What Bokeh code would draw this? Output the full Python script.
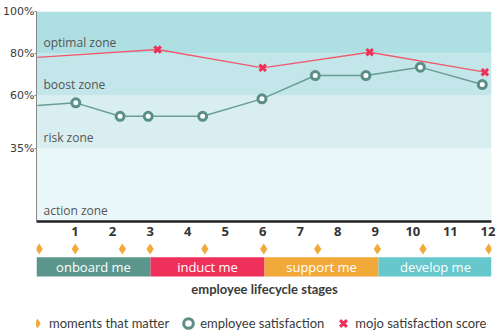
from bokeh.plotting import figure
from bokeh.models import (Range1d, FixedTicker, BoxAnnotation, ColumnDataSource,
                          Legend, LegendItem)
from bokeh.layouts import column
from bokeh.core.properties import value
from bokeh.embed import file_html
from bokeh.resources import INLINE

# ---------------- data ----------------
zone_names = ["action zone", "risk zone", "boost zone", "optimal zone"]
zone_lo = [0, 35, 60, 80]
zone_hi = [35, 60, 80, 100]
zone_colors = ["#eaf7f8", "#d8eef1", "#c3e6ea", "#aedfe3"]

y_ticks = [35, 60, 80, 100]
y_tick_labels = ["35%", "60%", "80%", "100%"]
x_ticks = list(range(1, 13))

# employee satisfaction (first value = line entering from the left edge)
sat_x = [0, 1.02, 2.2, 2.95, 4.4, 5.98, 7.4, 8.75, 10.2, 11.85]
sat_y = [55.2, 56.5, 50.1, 50.1, 50.1, 58.4, 69.5, 69.5, 73.5, 65.2]

# mojo satisfaction score (first value = line entering from the left edge)
mojo_x = [0, 3.2, 6.0, 8.85, 11.92]
mojo_y = [78.2, 81.9, 73.2, 80.6, 71.1]

# moments that matter (stage-strip scale)
moments_x = [0.07, 1.02, 2.26, 2.99, 4.43, 5.98, 7.4, 8.97, 10.17, 11.9]

stage_names = ["onboard me", "induct me", "support me", "develop me"]
stage_start = [0, 3, 6, 9]
stage_end = [3, 6, 9, 12]
stage_colors = ["#5b968c", "#ef305b", "#f1aa3a", "#66c7cc"]

# ---------------- main chart ----------------
PX1 = 37.7
p = figure(width=500, height=242, x_range=Range1d(-1 / PX1, 456 / PX1), y_range=Range1d(0, 100),
           output_backend="svg", toolbar_location=None,
           min_border_left=34, min_border_right=9, min_border_top=11, min_border_bottom=21)
p.outline_line_color = None
p.grid.visible = False

for lo, hi, c in zip(zone_lo, zone_hi, zone_colors):
    p.add_layout(BoxAnnotation(bottom=lo, top=hi, fill_color=c, fill_alpha=1,
                               line_alpha=0, level="underlay"))

zsrc = ColumnDataSource(dict(x=[0] * len(zone_lo), y=zone_lo, t=zone_names))
p.text(x="x", y="y", text="t", source=zsrc, x_offset=6, y_offset=-11,
       text_baseline="alphabetic", text_align="left",
       text_font=value("Open Sans"), text_font_size="12px", text_color="#555555")

sat_src = ColumnDataSource(dict(x=sat_x[1:], y=sat_y[1:]))
mojo_src = ColumnDataSource(dict(x=mojo_x[1:], y=mojo_y[1:]))

p.line(sat_x, sat_y, line_color="#6a9d95", line_width=1.5)
p.scatter("x", "y", source=sat_src, marker="circle", size=8, line_width=3,
          line_color="#5a8f87", fill_color="white")

p.line(mojo_x, mojo_y, line_color="#ef5b70", line_width=1.3)
p.scatter("x", "y", source=mojo_src, marker="x", size=9, line_width=3,
          line_color="#ee2f5a")

p.yaxis.ticker = FixedTicker(ticks=y_ticks)
p.yaxis.major_label_overrides = {t: l for t, l in zip(y_ticks, y_tick_labels)}
p.yaxis.axis_line_color = "#888888"
p.yaxis.major_tick_line_color = "#888888"
p.yaxis.major_tick_out = 2
p.yaxis.major_tick_in = 0
p.yaxis.minor_tick_line_color = None
p.yaxis.major_label_standoff = 0
p.yaxis.major_label_text_font = "DejaVu Sans"
p.yaxis.major_label_text_font_size = "11px"
p.yaxis.major_label_text_color = "#3a3a3a"

p.xaxis.ticker = FixedTicker(ticks=x_ticks)
p.xaxis.axis_line_color = "#222222"
p.xaxis.axis_line_width = 2.5
p.xaxis.major_tick_out = 0
p.xaxis.major_tick_in = 0
p.xaxis.minor_tick_line_color = None
p.xaxis.major_label_standoff = 5
p.xaxis.major_label_text_font = "Open Sans"
p.xaxis.major_label_text_font_style = "bold"
p.xaxis.major_label_text_font_size = "13px"
p.xaxis.major_label_text_color = "#333333"

# ---------------- stage strip + legend ----------------
PX2 = 38.17
p2 = figure(width=500, height=94, x_range=Range1d(0, 457 / PX2),
            y_range=Range1d(94, 0), x_axis_type=None, y_axis_type=None,
            output_backend="svg", toolbar_location=None,
            min_border_left=34, min_border_right=9, min_border_top=0, min_border_bottom=0)
p2.outline_line_color = None
p2.grid.visible = False

r_mom = p2.scatter(moments_x, [6.5] * len(moments_x), marker="diamond", size=11,
                   fill_color="#f2ab3a", line_color=None)

ssrc = ColumnDataSource(dict(l=stage_start, r=stage_end, c=stage_colors, t=stage_names,
                             m=[(a + b) / 2 for a, b in zip(stage_start, stage_end)]))
p2.hbar(y=24.4, left="l", right="r", height=19.3, fill_color="c", line_color=None, source=ssrc)
p2.text(x="m", y=24.4, text="t", source=ssrc, text_align="center", text_baseline="middle",
        text_font=value("Open Sans"), text_font_size="13px", text_color="white")

p2.text(x=[(stage_start[0] + stage_end[-1]) / 2], y=[46.5], text=["employee lifecycle stages"],
        text_align="center", text_baseline="middle", text_font=value("Lato"),
        text_font_style="bold", text_font_size="13px", text_color="#3a3a3a")

# legend proxies (hidden, same data as the chart series)
d_sat = p2.scatter("x", "y", source=sat_src, marker="circle", size=8, line_width=3,
                   line_color="#5a8f87", fill_color="white", visible=False)
d_mojo = p2.scatter("x", "y", source=mojo_src, marker="x", size=9, line_width=3,
                    line_color="#ee2f5a", visible=False)

leg = Legend(items=[LegendItem(label="moments that matter", renderers=[r_mom]),
                    LegendItem(label="employee satisfaction", renderers=[d_sat]),
                    LegendItem(label="mojo satisfaction score", renderers=[d_mojo])],
             orientation="horizontal", location=(-11, 1), glyph_width=24, glyph_height=24,
             label_standoff=0, spacing=7, padding=0, margin=0,
             border_line_color=None, background_fill_alpha=0,
             inactive_fill_alpha=0,
             label_text_font="Lato", label_text_font_size="13px",
             label_text_color="#3a3a3a")
p2.add_layout(leg)

layout = column(p, p2, spacing=0)
open("out.html", "w").write(file_html(layout, INLINE))
